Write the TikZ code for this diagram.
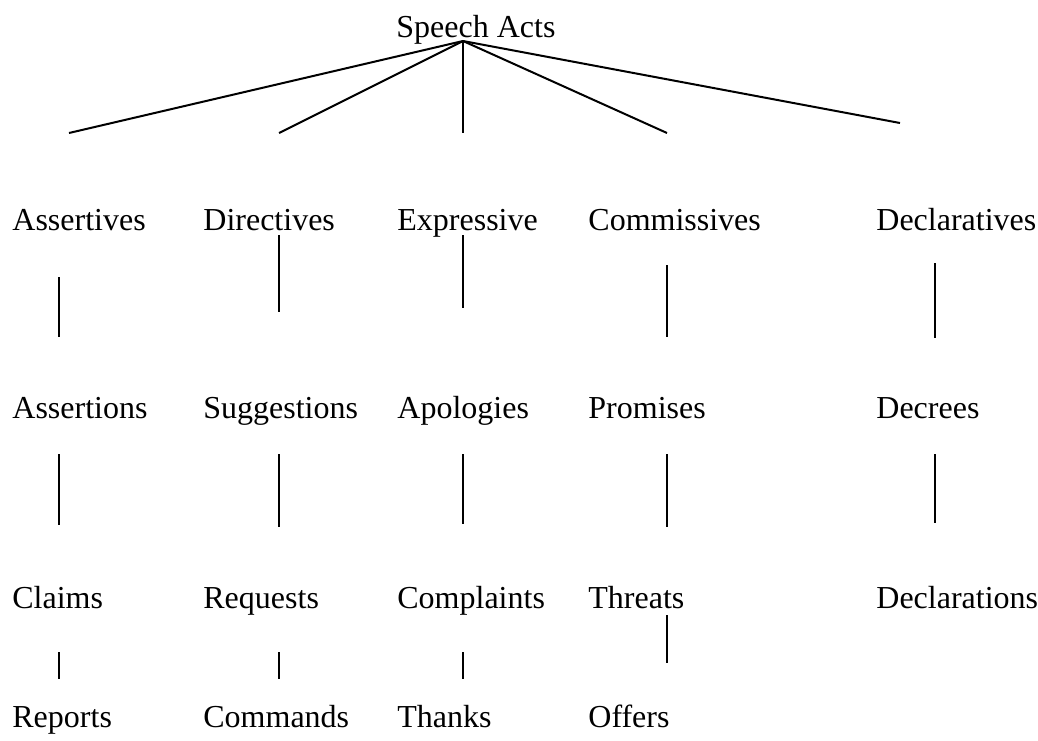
\documentclass[tikz,border=0pt]{standalone}
\usepackage{fontspec}
\setmainfont{Liberation Serif}
\usepackage{tikz}

\tikzset{
  act/.style={anchor=base west, inner sep=0pt, font=\fontsize{16}{19}\selectfont},
  branch/.style={line width=1pt, black}
}

\begin{document}
\begin{tikzpicture}[x=0.5pt, y=-0.5pt]
  \useasboundingbox (0,0) rectangle (1038,740);

  % root and fan
  \node[act] (root) at (396,37) {Speech Acts};
  \coordinate (apex) at (463,41);
  \coordinate (fa) at (69,133);
  \coordinate (fd) at (279,133);
  \coordinate (fe) at (463,133);
  \coordinate (fc) at (667,133);
  \coordinate (fx) at (900,123);
  \draw[branch] (apex) -- (fa);
  \draw[branch] (apex) -- (fd);
  \draw[branch] (apex) -- (fe);
  \draw[branch] (apex) -- (fc);
  \draw[branch] (apex) -- (fx);

  % classes
  \node[act] (assertives)   at (12,230)  {Assertives};
  \node[act] (directives)   at (203,230) {Directives};
  \node[act] (expressive)   at (397,230) {Expressive};
  \node[act] (commissives)  at (588,230) {Commissives};
  \node[act] (declaratives) at (876,230) {Declaratives};

  \node[act] (assertions)  at (12,418)  {Assertions};
  \node[act] (suggestions) at (203,418) {Suggestions};
  \node[act] (apologies)   at (397,418) {Apologies};
  \node[act] (promises)    at (588,418) {Promises};
  \node[act] (decrees)     at (876,418) {Decrees};

  \node[act] (claims)       at (12,608)  {Claims};
  \node[act] (requests)     at (203,608) {Requests};
  \node[act] (complaints)   at (397,608) {Complaints};
  \node[act] (threats)      at (588,608) {Threats};
  \node[act] (declarations) at (876,608) {Declarations};

  \node[act] (reports)  at (12,727)  {Reports};
  \node[act] (commands) at (203,727) {Commands};
  \node[act] (thanks)   at (397,727) {Thanks};
  \node[act] (offers)   at (588,727) {Offers};

  % vertical links
  \foreach \x/\a/\b [count=\i] in {59/277/337, 279/235/312, 463/235/308, 667/265/337, 935/263/338,
      59/454/525, 279/454/527, 463/454/524, 667/454/527, 935/454/523,
      59/652/679, 279/652/679, 463/652/679, 667/615/663} {
    \coordinate (up\i) at (\x,\a);
    \coordinate (lo\i) at (\x,\b);
    \draw[branch] (up\i) -- (lo\i);
  }
\end{tikzpicture}
\end{document}
